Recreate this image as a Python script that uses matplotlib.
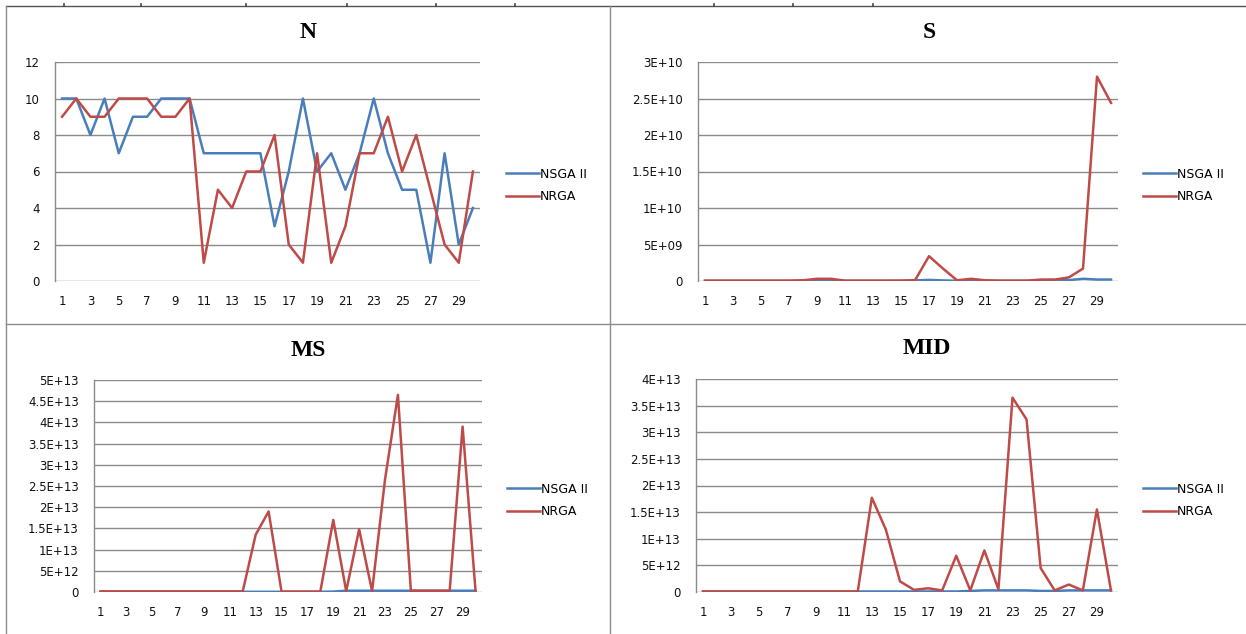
import matplotlib
matplotlib.use('Agg')
import matplotlib.pyplot as plt
from matplotlib.lines import Line2D
import numpy as np

runs = list(range(1, 31))
run_ticks = list(range(1, 30, 2))

# N
n_nsga = [10, 10, 8, 10, 7, 9, 9, 10, 10, 10, 7, 7, 7, 7, 7, 3, 6, 10, 6, 7,
          5, 7, 10, 7, 5, 5, 1, 7, 2, 4]
n_nrga = [9, 10, 9, 9, 10, 10, 10, 9, 9, 10, 1, 5, 4, 6, 6, 8, 2, 1, 7, 1,
          3, 7, 7, 9, 6, 8, 5, 2, 1, 6]
n_ticks = [0, 2, 4, 6, 8, 10, 12]
n_labels = ['0', '2', '4', '6', '8', '10', '12']

# S (x 1e9)
s_nsga = [0.02, 0.02, 0.02, 0.02, 0.02, 0.02, 0.02, 0.02, 0.03, 0.03, 0.02, 0.02, 0.02, 0.02, 0.03,
          0.08, 0.15, 0.08, 0.03, 0.03, 0.02, 0.02, 0.02, 0.03, 0.05, 0.08, 0.12, 0.3, 0.2, 0.2]
s_nrga = [0.05, 0.05, 0.05, 0.05, 0.05, 0.05, 0.05, 0.1, 0.3, 0.3, 0.05, 0.05, 0.05, 0.05, 0.05,
          0.1, 3.4, 1.7, 0.1, 0.3, 0.1, 0.05, 0.05, 0.05, 0.2, 0.2, 0.5, 1.7, 28.0, 24.4]
s_ticks = [0, 5e9, 1e10, 1.5e10, 2e10, 2.5e10, 3e10]
s_labels = ['0', '5E+09', '1E+10', '1.5E+10', '2E+10', '2.5E+10', '3E+10']

# MS (x 1e12)
ms_nsga = [0.05, 0.05, 0.05, 0.05, 0.05, 0.05, 0.05, 0.05, 0.05, 0.05, 0.05, 0.05, 0.05, 0.05, 0.05,
           0.05, 0.05, 0.05, 0.1, 0.3, 0.3, 0.3, 0.3, 0.3, 0.3, 0.3, 0.3, 0.3, 0.3, 0.3]
ms_nrga = [0.15, 0.15, 0.15, 0.15, 0.15, 0.15, 0.15, 0.15, 0.15, 0.15, 0.15, 0.15, 13.5, 19.0, 0.1,
           0.1, 0.1, 0.1, 17.0, 0.2, 14.8, 0.2, 26.5, 46.5, 0.3, 0.3, 0.3, 0.3, 39.0, 0.3]
ms_ticks = [0, 5e12, 1e13, 1.5e13, 2e13, 2.5e13, 3e13, 3.5e13, 4e13, 4.5e13, 5e13]
ms_labels = ['0', '5E+12', '1E+13', '1.5E+13', '2E+13', '2.5E+13', '3E+13', '3.5E+13',
             '4E+13', '4.5E+13', '5E+13']

# MID (x 1e12)
mid_nsga = [0.1, 0.1, 0.1, 0.1, 0.1, 0.1, 0.1, 0.1, 0.1, 0.1, 0.1, 0.1, 0.1, 0.1, 0.1,
            0.1, 0.1, 0.1, 0.1, 0.2, 0.3, 0.3, 0.3, 0.3, 0.2, 0.2, 0.3, 0.3, 0.3, 0.3]
mid_nrga = [0.1, 0.1, 0.1, 0.1, 0.1, 0.1, 0.1, 0.1, 0.1, 0.1, 0.1, 0.1, 17.7, 11.7, 2.0,
            0.4, 0.7, 0.3, 6.8, 0.3, 7.8, 0.5, 36.5, 32.4, 4.5, 0.3, 1.4, 0.3, 15.5, 0.3]
mid_ticks = [0, 5e12, 1e13, 1.5e13, 2e13, 2.5e13, 3e13, 3.5e13, 4e13]
mid_labels = ['0', '5E+12', '1E+13', '1.5E+13', '2E+13', '2.5E+13', '3E+13', '3.5E+13', '4E+13']

series_names = ['NSGA II', 'NRGA']
BLUE = '#4A7EBB'
RED = '#BE4B48'
GRID = '#8a8a8a'
W, H = 1246, 634

fig = plt.figure(figsize=(W / 100, H / 100), dpi=100)
fig.patch.set_facecolor('white')

def px_rect(l, r, t, b):
    return [l / W, 1 - b / H, (r - l) / W, (b - t) / H]

panels = [
    ('N', (55, 480, 62, 281), n_nsga, n_nrga, 1, n_ticks, n_labels, (308, 33), (506, 185.5)),
    ('S', (698, 1118, 62, 281), s_nsga, s_nrga, 1e9, s_ticks, s_labels, (929, 33), (1143, 185.5)),
    ('MS', (94, 482, 380, 592), ms_nsga, ms_nrga, 1e12, ms_ticks, ms_labels, (308, 350), (507, 500.5)),
    ('MID', (696, 1118, 379, 592), mid_nsga, mid_nrga, 1e12, mid_ticks, mid_labels, (927, 348), (1143, 500.5)),
]

for title, rect, a, b, scale, yt, yl, tpos, lpos in panels:
    ax = fig.add_axes(px_rect(*rect))
    ax.plot(runs, np.array(a) * scale, color=BLUE, lw=1.8, label=series_names[0])
    ax.plot(runs, np.array(b) * scale, color=RED, lw=1.8, label=series_names[1])
    ax.set_xlim(0.5, 30.5)
    ax.set_ylim(yt[0], yt[-1])
    ax.set_yticks(yt)
    ax.set_yticklabels(yl)
    ax.set_xticks(run_ticks)
    ax.set_xticklabels([str(t) for t in run_ticks])
    ax.tick_params(length=0, labelsize=8.5, colors='#111111')
    ax.tick_params(axis='y', pad=11)
    ax.tick_params(axis='x', pad=10)
    ax.grid(axis='y', color=GRID, lw=1)
    ax.set_axisbelow(True)
    for side in ['top', 'right', 'bottom']:
        ax.spines[side].set_visible(False)
    ax.spines['left'].set_color(GRID)
    ax.spines['left'].set_linewidth(1)
    fig.text(tpos[0] / W, 1 - tpos[1] / H, title, ha='center', va='center',
             fontsize=17, fontweight='bold', family='Liberation Serif')
    fig.legend(handles=ax.get_lines(), loc='center left',
               bbox_to_anchor=(lpos[0] / W, 1 - lpos[1] / H), frameon=False,
               borderpad=0, borderaxespad=0, handlelength=2.6, handletextpad=0.1,
               labelspacing=0.75, prop={'size': 9})

# frame lines around the four charts
frame = [((6, 1246), (5.5, 5.5), '#555555'), ((6, 1246), (324, 324), '#8c8c8c'),
         ((6, 6), (5.5, 634), '#8c8c8c'), ((610, 610), (5.5, 634), '#8c8c8c')]
for xs, ys, c in frame:
    fig.add_artist(Line2D([x / W for x in xs], [1 - y / H for y in ys],
                          transform=fig.transFigure, color=c, lw=1))

# tiny marks left on the top edge
for x in [64, 141, 246, 347, 436, 515, 714, 793, 873]:
    fig.add_artist(Line2D([x / W, x / W], [1 - 3.5 / H, 1 - 5.5 / H],
                          transform=fig.transFigure, color='#444444', lw=1.2))

plt.savefig('out.png', dpi=100)
